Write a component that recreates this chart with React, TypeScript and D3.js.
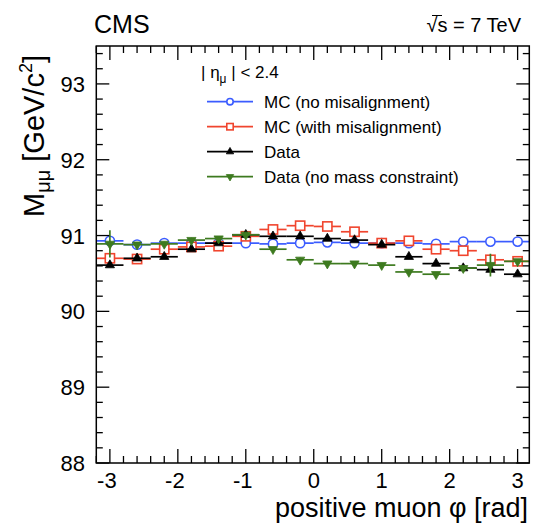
import React from "react";
import * as d3 from "d3";

// ---- data ----
const phiCenters = [-3.0, -2.6, -2.2, -1.8, -1.4, -1.0, -0.6, -0.2, 0.2, 0.6, 1.0, 1.4, 1.8, 2.2, 2.6, 3.0];
const binHalfWidth = 0.2;
const mcNoMisalign = [90.93, 90.88, 90.9, 90.9, 90.9, 90.9, 90.89, 90.9, 90.91, 90.9, 90.9, 90.9, 90.89, 90.92, 90.92, 90.92];
const mcWithMisalign = [90.7, 90.69, 90.82, 90.85, 90.86, 90.99, 91.08, 91.13, 91.12, 91.05, 90.9, 90.93, 90.82, 90.8, 90.68, 90.66];
const dataMass = [90.61, 90.7, 90.72, 90.82, 90.9, 91.01, 90.99, 90.99, 90.96, 90.94, 90.88, 90.72, 90.63, 90.57, 90.55, 90.49];
const dataNoMassConstraint = [90.89, 90.88, 90.89, 90.94, 90.96, 91.01, 90.82, 90.68, 90.63, 90.63, 90.61, 90.52, 90.49, 90.57, 90.61, 90.66];
const dataNoMassErr = [0.18, 0.03, 0.03, 0.03, 0.03, 0.03, 0.03, 0.03, 0.03, 0.03, 0.03, 0.03, 0.03, 0.03, 0.15, 0.03];
const smallErr = [0.02, 0.02, 0.02, 0.02, 0.02, 0.02, 0.02, 0.02, 0.02, 0.02, 0.02, 0.02, 0.02, 0.02, 0.02, 0.02];
const xTicks = [-3, -2, -1, 0, 1, 2, 3];
const yTicks = [88, 89, 90, 91, 92, 93];
const legendLabels = ["MC (no misalignment)", "MC (with misalignment)", "Data", "Data (no mass constraint)"];

const W = 533;
const H = 524;
const frame = { left: 96.3, right: 529.3, top: 46, bottom: 463 };

const x = d3.scaleLinear().domain([-3.2, 3.172]).range([frame.left, frame.right]);
const y = d3.scaleLinear().domain([88, 93.5]).range([frame.bottom, frame.top]);

const BLUE = "#3b5cff";
const RED = "#f0452e";
const GREEN = "#3d7a1f";
const BLACK = "#000";

type Kind = "circle" | "square" | "triUp" | "triDown";

function Marker({ kind, cx, cy, color, s }: { kind: Kind; cx: number; cy: number; color: string; s: number }) {
  if (kind === "circle") return <circle cx={cx} cy={cy} r={s} fill="#fff" stroke={color} strokeWidth={1.6} />;
  if (kind === "square")
    return <rect x={cx - s} y={cy - s} width={2 * s} height={2 * s} fill="#fff" stroke={color} strokeWidth={1.6} />;
  const sym = d3.symbol(d3.symbolTriangle, s * s * 2.3)();
  return (
    <path
      d={sym || ""}
      transform={`translate(${cx},${cy}) rotate(${kind === "triDown" ? 180 : 0})`}
      fill={color}
      stroke={color}
      strokeWidth={0.8}
    />
  );
}

function Series({ vals, errs, color, kind, s }: { vals: number[]; errs: number[]; color: string; kind: Kind; s: number }) {
  return (
    <g>
      {vals.map((v, i) => {
        const cx = x(phiCenters[i]);
        const cy = y(v);
        const x0 = x(Math.max(-3.2, phiCenters[i] - binHalfWidth));
        const x1 = x(Math.min(3.172, phiCenters[i] + binHalfWidth));
        return (
          <g key={i}>
            <line x1={x0} x2={x1} y1={cy} y2={cy} stroke={color} strokeWidth={1.7} />
            <line x1={cx} x2={cx} y1={y(v - errs[i])} y2={y(v + errs[i])} stroke={color} strokeWidth={1.7} />
            <Marker kind={kind} cx={cx} cy={cy} color={color} s={s} />
          </g>
        );
      })}
    </g>
  );
}

export default function App() {
  const font = "'Liberation Sans', Arial, Helvetica, sans-serif";
  const xMinor = d3.range(-3.2, 3.18, 0.2).map((d) => Math.round(d * 10) / 10);
  const yMinor = d3.range(88, 93.5, 0.2).map((d) => Math.round(d * 10) / 10);
  const series = [
    { vals: mcNoMisalign, errs: smallErr, color: BLUE, kind: "circle" as Kind, s: 4.6 },
    { vals: mcWithMisalign, errs: smallErr, color: RED, kind: "square" as Kind, s: 4.6 },
    { vals: dataMass, errs: smallErr, color: BLACK, kind: "triUp" as Kind, s: 4.0 },
    { vals: dataNoMassConstraint, errs: dataNoMassErr, color: GREEN, kind: "triDown" as Kind, s: 4.0 },
  ];
  const legendY = [101.7, 126.7, 151.7, 176.7];
  return (
    <svg width={W} height={H} style={{ position: "absolute", left: 0, top: 0, background: "#fff" }} fontFamily={font}>
      {/* series */}
      {series.map((s, i) => (
        <Series key={i} vals={s.vals} errs={s.errs} color={s.color} kind={s.kind} s={s.s} />
      ))}

      {/* frame */}
      <rect
        x={frame.left}
        y={frame.top}
        width={frame.right - frame.left}
        height={frame.bottom - frame.top}
        fill="none"
        stroke="#000"
        strokeWidth={1.5}
      />
      {/* x ticks */}
      {xMinor.map((t) => {
        const major = Math.abs(t - Math.round(t)) < 1e-6;
        const len = major ? 14 : 7;
        return (
          <g key={"xt" + t}>
            <line x1={x(t)} x2={x(t)} y1={frame.bottom} y2={frame.bottom - len} stroke="#000" strokeWidth={1.3} />
            <line x1={x(t)} x2={x(t)} y1={frame.top} y2={frame.top + len} stroke="#000" strokeWidth={1.3} />
          </g>
        );
      })}
      {yMinor.map((t) => {
        const major = Math.abs(t - Math.round(t)) < 1e-6;
        const len = major ? 13 : 6.5;
        return (
          <g key={"yt" + t}>
            <line x1={frame.left} x2={frame.left + len} y1={y(t)} y2={y(t)} stroke="#000" strokeWidth={1.3} />
            <line x1={frame.right} x2={frame.right - len} y1={y(t)} y2={y(t)} stroke="#000" strokeWidth={1.3} />
          </g>
        );
      })}
      {/* tick labels */}
      {xTicks.map((t) => (
        <text key={"xl" + t} x={x(t) - (t < 0 ? 3 : 0)} y={488} fontSize={22} textAnchor="middle">
          {t < 0 ? "-" + Math.abs(t) : String(t)}
        </text>
      ))}
      {yTicks.map((t) => (
        <text key={"yl" + t} x={85} y={y(t) + 8} fontSize={22} textAnchor="end">
          {t}
        </text>
      ))}

      {/* axis titles */}
      <text x={528} y={517} fontSize={27} textAnchor="end">
        positive muon φ [rad]
      </text>
      <text transform="translate(44,217) rotate(-90)" fontSize={29}>
        <tspan>M</tspan>
        <tspan fontSize={20} dy={6}>μμ</tspan>
        <tspan dy={-6}> [GeV/c</tspan>
        <tspan fontSize={18} dy={-12}>2</tspan>
        <tspan dy={12}>]</tspan>
      </text>

      {/* header texts */}
      <text x={94} y={33} fontSize={25}>
        CMS
      </text>
      <text x={521} y={32} fontSize={20} textAnchor="end">
        √s = 7 TeV
      </text>
      <line x1={432} x2={442} y1={15.5} y2={15.5} stroke="#000" strokeWidth={1} />

      {/* legend */}
      <text x={201} y={78} fontSize={17}>
        <tspan>|  η</tspan>
        <tspan fontSize={12} dy={5}>μ</tspan>
        <tspan dy={-5}>  | &lt; 2.4</tspan>
      </text>
      {series.map((s, i) => (
        <g key={"lg" + i}>
          <line x1={207} x2={253} y1={legendY[i]} y2={legendY[i]} stroke={s.color} strokeWidth={1.7} />
          <Marker kind={s.kind} cx={230} cy={legendY[i]} color={s.color} s={3.2} />
          <text x={264} y={legendY[i] + 6} fontSize={17}>
            {legendLabels[i]}
          </text>
        </g>
      ))}
    </svg>
  );
}
